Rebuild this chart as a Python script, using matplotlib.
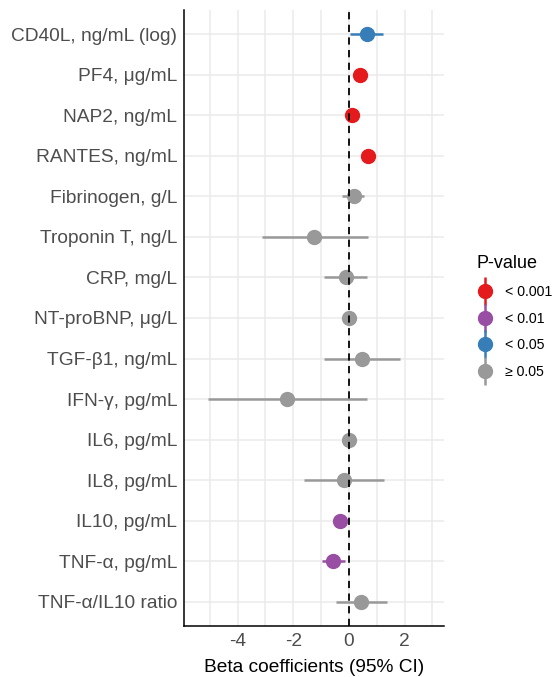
import matplotlib
matplotlib.use("Agg")
import numpy as np
from matplotlib import pyplot as plt
from matplotlib.lines import Line2D
from matplotlib.ticker import MultipleLocator

plt.rcParams["font.family"] = ["Liberation Sans", "DejaVu Sans"]
plt.rcParams["axes.unicode_minus"] = False

# top to bottom as in the picture
markers = [
    "CD40L, ng/mL (log)", "PF4, μg/mL", "NAP2, ng/mL", "RANTES, ng/mL",
    "Fibrinogen, g/L", "Troponin T, ng/L", "CRP, mg/L", "NT-proBNP, μg/L",
    "TGF-β1, ng/mL", "IFN-γ, pg/mL", "IL6, pg/mL", "IL8, pg/mL",
    "IL10, pg/mL", "TNF-α, pg/mL", "TNF-α/IL10 ratio",
]
beta = [0.64, 0.41, 0.11, 0.67, 0.18, -1.24, -0.12, 0.02, 0.47, -2.21,
        -0.01, -0.19, -0.31, -0.58, 0.43]
ci_low = [0.03, 0.33, 0.04, 0.59, -0.23, -3.13, -0.89, -0.05, -0.90, -5.06,
          -0.08, -1.63, -0.40, -0.98, -0.48]
ci_high = [1.21, 0.49, 0.18, 0.75, 0.55, 0.67, 0.64, 0.09, 1.82, 0.65,
           0.06, 1.26, -0.22, -0.15, 1.36]
pgroup = ["< 0.05", "< 0.001", "< 0.001", "< 0.001", "≥ 0.05", "≥ 0.05",
          "≥ 0.05", "≥ 0.05", "≥ 0.05", "≥ 0.05", "≥ 0.05", "≥ 0.05",
          "< 0.01", "< 0.01", "≥ 0.05"]

group_names = ["< 0.001", "< 0.01", "< 0.05", "≥ 0.05"]
group_colors = {"< 0.001": "#E41A1C", "< 0.01": "#984EA3",
                "< 0.05": "#377EB8", "≥ 0.05": "#999999"}

fig = plt.figure(figsize=(5.55, 6.77), dpi=100)
ax = fig.add_axes([0.3315, 0.0749, 0.4685, 0.9108])

n = len(markers)
ypos = np.arange(n)[::-1] + 1

for y, b, lo, hi, g in zip(ypos, beta, ci_low, ci_high, pgroup):
    c = group_colors[g]
    ax.plot([lo, hi], [y, y], color=c, lw=1.8, solid_capstyle="butt", zorder=3)
    ax.plot(b, y, "o", color=c, markersize=10, zorder=4)

ax.axvline(0, color="black", lw=1.3, ls=(0, (4, 3)), zorder=5)

ax.set_xlim(-5.93, 3.42)
ax.set_ylim(0.4, n + 0.6)
ax.set_yticks(ypos)
ax.set_yticklabels(markers)
ax.xaxis.set_major_locator(MultipleLocator(2))
ax.xaxis.set_minor_locator(MultipleLocator(1))

ax.grid(True, which="major", color="#EBEBEB", lw=1.1, zorder=0)
ax.grid(True, which="minor", axis="x", color="#EBEBEB", lw=1.1, zorder=0)
ax.set_axisbelow(True)

for s in ["top", "right"]:
    ax.spines[s].set_visible(False)
for s in ["left", "bottom"]:
    ax.spines[s].set_color("black")
    ax.spines[s].set_linewidth(1.1)

ax.tick_params(which="both", length=0, labelsize=13.8, labelcolor="#4D4D4D", pad=5)
ax.set_xlabel("Beta coefficients (95% CI)", fontsize=13.8, color="black", labelpad=6)

handles = []
for g in group_names:
    c = group_colors[g]
    handles.append((Line2D([], [], marker="|", color=c, markersize=20,
                           markeredgewidth=1.8, linestyle="none"),
                    Line2D([], [], marker="o", color=c, markersize=10,
                           linestyle="none")))
leg = fig.legend(handles, group_names, title="P-value", loc="upper left",
                 bbox_to_anchor=(0.835, 0.642), frameon=False, fontsize=10.2,
                 title_fontsize=13, handlelength=1.2, labelspacing=0.9,
                 handletextpad=0.8, alignment="left")

fig.savefig("out.png", dpi=100)
